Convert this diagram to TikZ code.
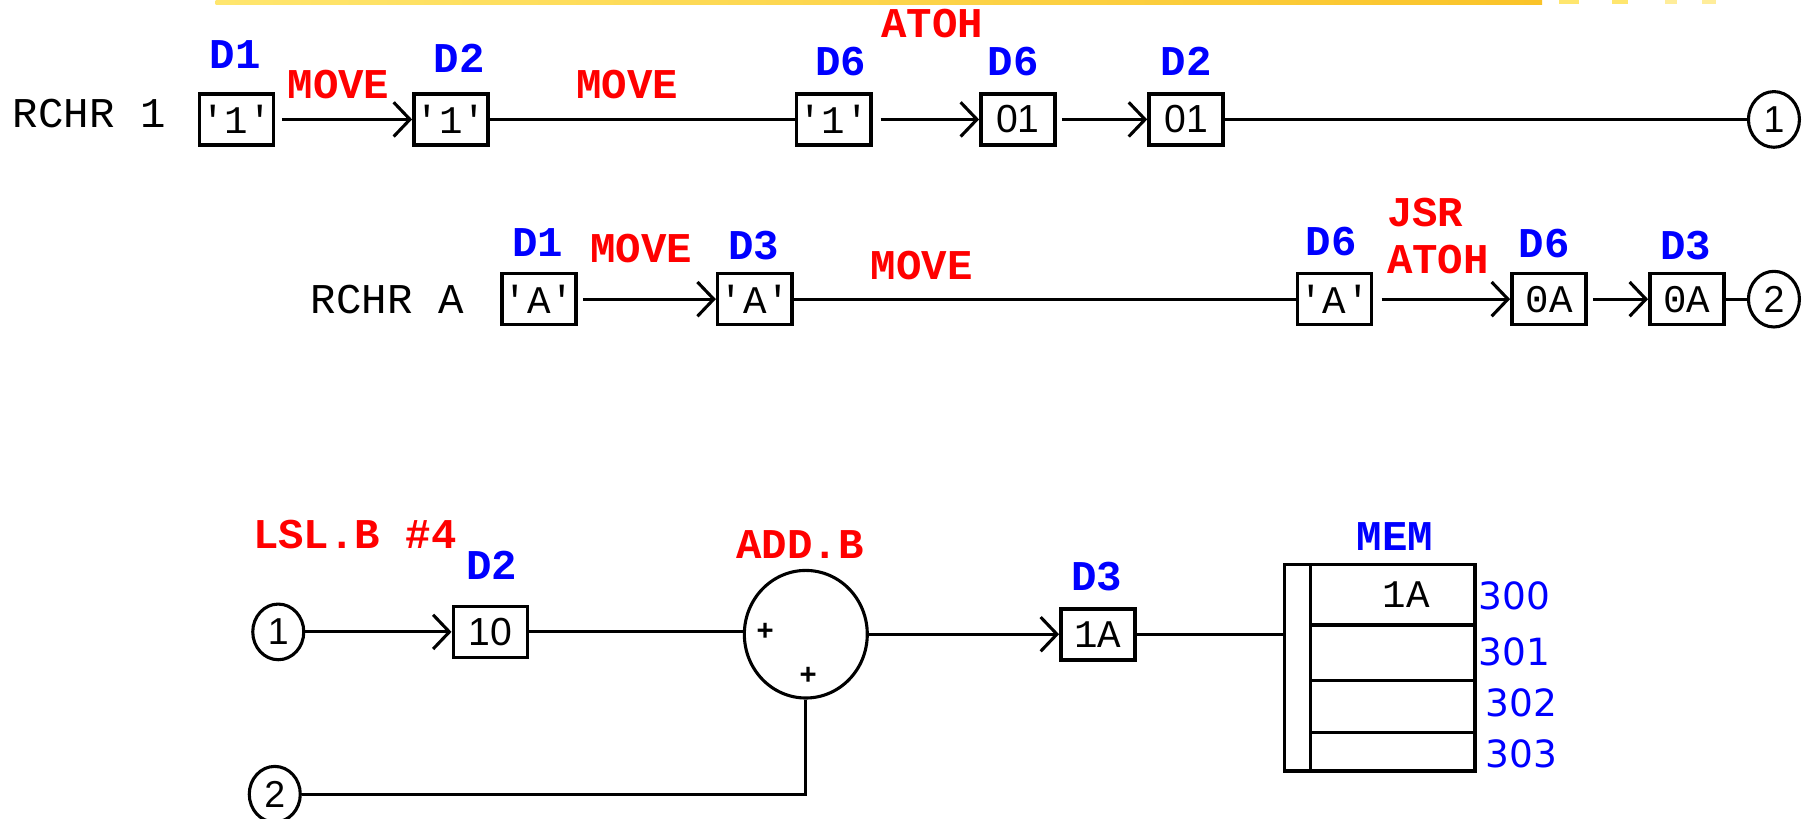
\documentclass[tikz,border=0pt]{standalone}
\usepackage{fontspec}
\setmainfont{Liberation Sans}
\setmonofont{Liberation Mono}
\newfontfamily\verd{DejaVu Sans}
\usetikzlibrary{arrows.meta,shapes.geometric}
\definecolor{lblred}{RGB}{255,0,0}
\definecolor{lblblue}{RGB}{0,0,255}
\definecolor{bandL}{RGB}{255,230,110}
\definecolor{bandR}{RGB}{250,195,40}
\newcommand{\q}{\textquotesingle}
\begin{document}
\begin{tikzpicture}[x=0.025cm,y=-0.025cm,
  reg/.style={draw,line width=2.2pt,minimum width=1.6cm,minimum height=1.1cm,inner sep=0pt,font=\ttfamily\fontsize{24}{24}\selectfont},
  regs/.style={reg,font=\fontsize{24}{24}\selectfont},
  conn/.style={line width=1.9pt},
  arr/.style={conn,-{Straight Barb[length=10pt,width=21pt,line width=1.9pt]}},
  op/.style={text=lblred,font=\ttfamily\bfseries\fontsize{26}{26}\selectfont,inner sep=0pt},
  rn/.style={text=lblblue,font=\ttfamily\bfseries\fontsize{26}{26}\selectfont,inner sep=0pt},
  plain/.style={font=\ttfamily\fontsize{26}{26}\selectfont,inner sep=0pt},
  joint/.style={draw,ellipse,line width=1.9pt,minimum width=1.1cm,minimum height=1.2cm,inner sep=0pt,font=\fontsize{23}{23}\selectfont},
  addr/.style={text=lblblue,font=\verd\fontsize{23}{23}\selectfont,inner sep=0pt}
]
\useasboundingbox (0,0) rectangle (1568,706);
% top band
\shade[left color=bandL,right color=bandR] (186,0) rectangle (1330,4);
\fill[bandL] (1345,0) rectangle (1362,3.5);
\fill[bandL] (1390,0) rectangle (1404,3.5);
\fill[bandL!70] (1436,0) rectangle (1446,3.5);
\fill[bandL!70] (1468,0) rectangle (1480,3.5);

% ---- row 1
\node[plain] (t1) at (77,98) {RCHR 1};
\node[reg] (a1) at (204,103) {\q1\q};
\node[reg] (a2) at (389,103) {\q1\q};
\node[reg] (a3) at (719,103) {\q1\q};
\node[regs] (a4) at (878,103) {01};
\node[regs] (a5) at (1023,103) {01};
\node[joint] (c1) at (1530,103) {1};
\node[rn] (la1) at (203,47) {D1};
\node[rn] (la2) at (396,50) {D2};
\node[rn] (la3) at (725,53) {D6};
\node[rn] (la4) at (874,53) {D6};
\node[rn] (la5) at (1023,53) {D2};
\node[op] (o11) at (292,73) {MOVE};
\node[op] (o12) at (541,73) {MOVE};
\node[op] (o13) at (804,20) {ATOH};
\draw[arr,shorten <=4pt] (a1) -- (a2);
\draw[conn] (a2) -- (a3);
\draw[arr,shorten <=5pt] (a3) -- (a4);
\draw[arr,shorten <=3pt] (a4) -- (a5);
\draw[conn] (a5) -- (c1);

% ---- row 2
\node[plain] (t2) at (334,258) {RCHR A};
\node[reg] (b1) at (465,258) {\q A\q};
\node[reg] (b2) at (651,258) {\q A\q};
\node[reg] (b3) at (1151,258) {\q A\q};
\node[reg] (b4) at (1336,258) {0A};
\node[reg] (b5) at (1455,258) {0A};
\node[joint] (c2) at (1530,258) {2};
\node[rn] (lb1) at (464,209) {D1};
\node[rn] (lb2) at (650,212) {D3};
\node[rn] (lb3) at (1148,208) {D6};
\node[rn] (lb4) at (1332,210) {D6};
\node[rn] (lb5) at (1454,212) {D3};
\node[op] (o21) at (553,214) {MOVE};
\node[op] (o22) at (795,229) {MOVE};
\node[op,anchor=west] (o23) at (1196,183) {JSR};
\node[op,anchor=west] (o24) at (1196,224) {ATOH};
\draw[arr,shorten <=3pt] (b1) -- (b2);
\draw[conn] (b2) -- (b3);
\draw[arr,shorten <=5pt] (b3) -- (b4);
\draw[arr,shorten <=3pt] (b4) -- (b5);
\draw[conn] (b5) -- (c2);

% ---- row 3
\node[op] (o31) at (306,461) {LSL.B \#4};
\node[op] (o32) at (690,470) {ADD.B};
\node[joint] (c31) at (240,545) {1};
\node[regs] (r10) at (423,545) {10};
\node[rn] (lr1) at (424,488) {D2};
\node[draw,ellipse,line width=1.9pt,minimum width=2.65cm,minimum height=2.75cm,inner sep=0pt] (sum) at (695,547) {};
\node[font=\ttfamily\bfseries\fontsize{18}{18}\selectfont,inner sep=0pt] (p1) at (660,545) {+};
\node[font=\ttfamily\bfseries\fontsize{18}{18}\selectfont,inner sep=0pt] (p2) at (697,583) {+};
\node[joint] (c32) at (237,685) {2};
\node[reg] (r1a) at (947,547) {1A};
\node[rn] (lr2) at (946,497) {D3};
\draw[arr] (c31) -- (r10);
\draw[conn] (r10.east) -- (r10.east -| sum.west);
\draw[conn] (sum.south) |- (c32.east);
\draw[arr] (sum.east) -- (r1a.west);

% memory
\node[draw,line width=2.2pt,minimum width=4.1cm,minimum height=4.45cm,inner sep=0pt] (mem) at (1190,576) {};
\draw[line width=2pt] (1130,487) -- (1130,665);
\draw[line width=2pt] (1130,539) -- (1272,539);
\draw[line width=2pt] (1130,587) -- (1272,587);
\draw[line width=2pt] (1130,632) -- (1272,632);
\node[font=\ttfamily\fontsize{24}{24}\selectfont,inner sep=0pt] (m0) at (1213,513) {1A};
\node[rn] (lm) at (1203,463) {MEM};
\draw[conn] (r1a) -- (mem.west |- r1a);
\node[addr] (ad0) at (1306,514) {300};
\node[addr] (ad1) at (1306,562) {301};
\node[addr] (ad2) at (1312,606) {302};
\node[addr] (ad3) at (1312,650) {303};
\end{tikzpicture}
\end{document}
